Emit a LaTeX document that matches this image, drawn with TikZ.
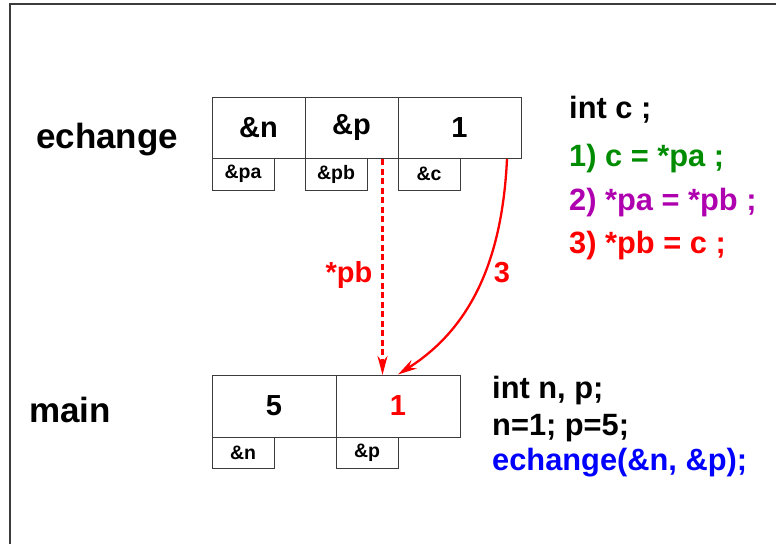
\documentclass[tikz,border=0pt]{standalone}
\usepackage{fontspec}
\setmainfont{Liberation Sans}
\usetikzlibrary{arrows.meta}
\definecolor{codegreen}{RGB}{0,140,0}
\definecolor{codepurple}{RGB}{175,0,175}
\definecolor{framegray}{RGB}{60,60,60}
\begin{document}
\begin{tikzpicture}[x=1pt,y=-1pt,
  cell/.style={draw=framegray, line width=1pt, inner sep=0pt, font=\fontsize{29}{29}\selectfont\bfseries},
  addr/.style={draw=framegray, line width=1pt, inner sep=0pt, minimum width=62pt, font=\fontsize{19.5}{19.5}\selectfont\bfseries},
  lbl/.style={inner sep=0pt, anchor=base west, font=\fontsize{35}{35}\selectfont\bfseries},
  code/.style={inner sep=0pt, anchor=base west, font=\fontsize{30.8}{30.8}\selectfont\bfseries},
  arr/.style={red, line width=2.4pt, -{Stealth[length=19pt,width=10pt,inset=6pt]}},
  alabel/.style={inner sep=0pt, anchor=base, red, font=\fontsize{29}{29}\selectfont\bfseries}]
\useasboundingbox (0,0) rectangle (776,544);
\draw[framegray, line width=1.5pt] (10,544) -- (10,4) -- (776,4);
% echange frame
\node[cell, minimum width=93pt, minimum height=61pt] (e1) at (258.5,127.5) {\&n};
\node[cell, minimum width=93pt, minimum height=61pt] (e2) at (351.5,127.5) {\&p};
\node[cell, minimum width=123pt, minimum height=61pt] (e3) at (459.5,127.5) {1};
\node[addr, minimum height=32pt] (sa) at (243,174) {\&pa};
\node[addr, minimum height=32pt] (sb) at (336,174) {\&pb};
\node[addr, minimum height=32pt] (sc) at (429,174) {\&c};
\node[lbl] (le) at (36,148) {echange};
% main frame
\node[cell, minimum width=124pt, minimum height=62pt] (m1) at (274,406) {5};
\node[cell, minimum width=124pt, minimum height=62pt, text=red] (m2) at (398,406) {1};
\node[addr, minimum height=31pt] (mn) at (243,452.5) {\&n};
\node[addr, minimum height=31pt] (mp) at (367,452.5) {\&p};
\node[lbl] (lm) at (29,422) {main};
% code
\node[code] (c1) at (569,118) {int c ;};
\node[code, text=codegreen] (c2) at (569,166) {1) c = *pa ;};
\node[code, text=codepurple] (c3) at (569,210) {2) *pa = *pb ;};
\node[code, text=red] (c4) at (569,253) {3) *pb = c ;};
\node[code] (d1) at (492,398) {int n, p;};
\node[code] (d2) at (492,435) {n=1; p=5;};
\node[code, text=blue] (d3) at (492,470) {echange(\&n, \&p);};
% arrows
\coordinate (pbtop) at (382.5,159);
\coordinate (pbbot) at (382.5,375);
\coordinate (ctop) at (507,159);
\draw[arr, line width=2.7pt, dash pattern=on 6pt off 3.5pt] (pbtop) -- (pbbot);
\draw[arr, line width=2.3pt] (ctop) .. controls (502,265) and (468,330) .. (m2.north);
\node[alabel] (lpb) at (349,282) {*pb};
\node[alabel] (l3) at (502,282) {3};
\end{tikzpicture}
\end{document}
